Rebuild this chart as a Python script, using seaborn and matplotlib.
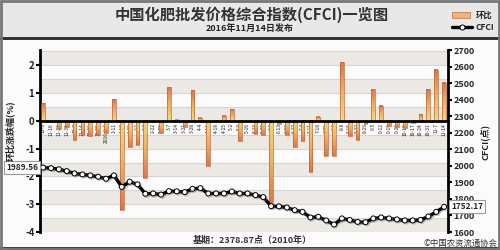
import numpy as np
import pandas as pd
import matplotlib
matplotlib.use("Agg")
import matplotlib.pyplot as plt
import matplotlib.patheffects as pe
import seaborn as sns
from matplotlib.colors import LinearSegmentedColormap
from matplotlib.patches import Rectangle
from matplotlib.lines import Line2D
from matplotlib.ticker import FixedLocator, FixedFormatter

# ---------------- data ----------------
dates = ["11-9", "11-16", "11-23", "11-30", "12-7", "12-14", "12-21", "12-28",
         "2016-1-4", "1-11", "1-18", "1-25", "2-1", "2-8", "2-22", "2-29",
         "3-7", "3-14", "3-21", "3-28", "4-4", "4-11", "4-18", "4-25",
         "5-2", "5-9", "5-16", "5-23", "5-30", "6-6", "6-13", "6-20",
         "6-27", "7-4", "7-11", "7-18", "7-25", "8-1", "8-8", "8-15",
         "8-22", "8-29", "9-5", "9-12", "9-19", "9-26", "10-10", "10-17",
         "10-24", "10-31", "11-7", "11-14"]

change_pct = [0.63, -0.05, -0.30, -0.22, -0.70, -0.51, -0.55, -0.50,
              -0.42, 0.79, -3.22, -0.93, -0.88, -2.07, -0.03, -0.42,
              1.22, 0.04, -0.22, 1.11, 0.12, -1.64, 0.02, 0.18,
              0.43, -0.74, -0.02, -0.48, -0.52, -2.96, -0.10, -0.50,
              -0.94, -0.73, -1.84, 0.15, -1.27, -1.25, 2.12, -0.55,
              -0.70, -0.12, 1.15, 0.55, -0.18, -0.22, -0.27, -0.08,
              0.24, 1.15, 1.84, 1.37]

cfci = [1989.56, 1986, 1979, 1968, 1954, 1948, 1942, 1934,
        1922, 1942, 1873, 1904, 1888, 1831, 1833, 1826,
        1847, 1846, 1841, 1861, 1865, 1833, 1833, 1833,
        1845, 1833, 1833, 1823, 1811, 1756, 1755, 1748,
        1732, 1722, 1688, 1692, 1670, 1645, 1682, 1673,
        1661, 1659, 1682, 1688, 1682, 1676, 1670, 1670,
        1673, 1694, 1722, 1752.17]

left_ticks = [-4, -3, -2, -1, 0, 1, 2]
right_ticks = [1600, 1700, 1800, 1900, 2000, 2100, 2200, 2300, 2400, 2500, 2600, 2700]

title = "中国化肥批发价格综合指数(CFCI)一览图"
subtitle = "2016年11月14日发布"
footer = "基期：2378.87点（2010年）"
credit = "©中国农资流通协会"

df = pd.DataFrame({"date": dates, "pct": change_pct, "cfci": cfci})
df["pos"] = np.arange(len(df))

# ---------------- style ----------------
sns.set_style("white")
plt.rcParams["font.family"] = ["Noto Sans CJK SC", "DejaVu Sans"]
plt.rcParams["axes.unicode_minus"] = False

fig = plt.figure(figsize=(5, 2.5), dpi=100, facecolor="#fbfbfb")

# header band & frame
fig.patches.append(Rectangle((0, 1 - 37 / 250), 1, 37 / 250, transform=fig.transFigure,
                             facecolor="#e8e8e8", edgecolor="none", zorder=0))
fig.patches.append(Rectangle((0, 1 - 39.5 / 250), 1, 2.5 / 250, transform=fig.transFigure,
                             facecolor="#333333", edgecolor="none", zorder=0))
fig.patches.append(Rectangle((0, 0), 1, 3 / 250, transform=fig.transFigure,
                             facecolor="#444444", edgecolor="none", zorder=0))
fig.patches.append(Rectangle((0.002, 0.004), 0.996, 0.992, transform=fig.transFigure,
                             facecolor="none", edgecolor="#777777", lw=2, zorder=5))

ax = fig.add_axes([0.08, 0.072, 0.816, 0.728])
ax.set_facecolor("#fbfbfb")

# bars
sns.barplot(data=df, x="date", y="pct", order=dates, width=0.48, color="#f0b070",
            saturation=1, ax=ax, zorder=2)
bar_patches = list(ax.patches)

cmap = LinearSegmentedColormap.from_list("barg", ["#f6d870", "#f0b060", "#e27448"])
grad = np.linspace(0, 1, 64).reshape(-1, 1)
for p in bar_patches:
    x0 = p.get_x()
    w = p.get_width()
    h = p.get_height()
    if abs(h) < 1e-9:
        continue
    ax.imshow(grad, cmap=cmap, origin="lower", aspect="auto",
              extent=(x0, x0 + w, 0, h), zorder=2, interpolation="bilinear")
    p.set_facecolor("none")
    p.set_edgecolor("#b86a3e")
    p.set_linewidth(0.5)
    p.set_zorder(3)

# alternating bands (drawn after bars so they are not touched above)
ylo, yhi = -4.0, 2.55
edges = np.arange(-4.0, 3.0, 0.5)
for lo in edges:
    hi = min(lo + 0.5, yhi)
    k = int(round((2.5 - lo) / 0.5))
    shade = "#ece8e4" if k % 2 == 1 else "#fbfbfb"
    ax.axhspan(lo, hi, facecolor=shade, edgecolor="none", zorder=0, lw=0)
    ax.axhline(lo, color="#d9d5d1", lw=0.8, zorder=0.5)

ax.set_ylim(ylo, yhi)
ax.set_yticks(left_ticks)
ax.set_yticklabels([str(t) for t in left_ticks], fontsize=7, fontweight="bold")
ax.tick_params(axis="y", length=3, width=1.5, direction="out", pad=1, color="black")
ax.set_xlabel("")
ax.set_ylabel("")

ax.spines["top"].set_visible(False)
ax.spines["right"].set_visible(False)
ax.spines["bottom"].set_position(("data", 0))
ax.spines["bottom"].set_linewidth(2)
ax.spines["bottom"].set_color("black")
ax.spines["bottom"].set_zorder(4)
ax.spines["left"].set_linewidth(2)
ax.spines["left"].set_color("black")

# line
ax2 = ax.twinx()
sns.lineplot(data=df, x="pos", y="cfci", ax=ax2, color="black", lw=2.4, marker="o",
             markersize=3.6, markerfacecolor="white", markeredgecolor="black",
             markeredgewidth=0.7, zorder=5,
             path_effects=[pe.SimpleLineShadow(offset=(0.8, -0.8), shadow_color="#777777", alpha=0.5),
                           pe.Normal()])
ax2.set_ylim(right_ticks[0], right_ticks[-1])
ax2.set_yticks(right_ticks)
ax2.set_yticklabels([str(t) for t in right_ticks], fontsize=6.5, fontweight="bold")
ax2.tick_params(axis="y", length=3, width=1.5, direction="out", pad=1, color="black")
ax2.set_xlabel("")
ax2.set_ylabel("")
for s in ["top", "left", "bottom"]:
    ax2.spines[s].set_visible(False)
ax2.spines["right"].set_linewidth(2)
ax2.spines["right"].set_color("black")

# x axis (after lineplot, since the x axis is shared)
ax.set_xlim(-0.4, len(dates) - 0.5)
ax.xaxis.set_major_locator(FixedLocator(list(range(len(dates)))))
ax.xaxis.set_major_formatter(FixedFormatter(dates))
ax.xaxis.set_minor_locator(FixedLocator(list(np.arange(len(dates)) + 0.5)))
ax.tick_params(axis="x", which="major", length=0, pad=1.5, labelsize=3.5,
               labelrotation=90, labelcolor="#222222")
ax.tick_params(axis="x", which="minor", length=2.5, width=0.8, direction="out", color="black")
ax.set_xlabel("")

# value boxes
box = dict(boxstyle="square,pad=0.25", facecolor="white", edgecolor="#9a9a9a", lw=0.8)
ax2.annotate(f"{cfci[0]:.2f}", xy=(df["pos"].iloc[0], cfci[0]), xytext=(-21, 0),
             textcoords="offset pixels", ha="center", va="center", fontsize=6,
             fontweight="bold", bbox=box, annotation_clip=False, zorder=10)
ax2.annotate(f"{cfci[-1]:.2f}", xy=(df["pos"].iloc[-1], cfci[-1]), xytext=(23, 0),
             textcoords="offset pixels", ha="center", va="center", fontsize=6,
             fontweight="bold", bbox=box, annotation_clip=False, zorder=10)

# texts
fig.text(0.504, 1 - 14.5 / 250, title, ha="center", va="center", fontsize=11,
         fontweight="bold", color="#333333")
fig.text(0.5, 1 - 28.5 / 250, subtitle, ha="center", va="center", fontsize=6.5,
         fontweight="bold", color="#222222")
fig.text(0.02, 0.476, "环比涨跌幅(%)", rotation=90, ha="center", va="center",
         fontsize=6.5, fontweight="bold", color="#222222")
fig.text(0.97, 0.432, "CFCI(点)", rotation=90, ha="center", va="center",
         fontsize=6.5, fontweight="bold", color="#222222")
fig.text(0.504, 0.04, footer, ha="center", va="center", fontsize=6.5,
         fontweight="bold", color="#333333")
fig.text(0.994, 0.028, credit, ha="right", va="center", fontsize=6, color="#333333")

# legend (manual)
fig.patches.append(Rectangle((452 / 500, 1 - 18 / 250), 18 / 500, 6 / 250,
                             transform=fig.transFigure, facecolor="#efb27a",
                             edgecolor="#c98050", lw=0.6))
fig.text(476 / 500, 1 - 15 / 250, "环比", ha="left", va="center", fontsize=6,
         fontweight="bold", color="#222222")
fig.add_artist(Line2D([452 / 500, 472 / 500], [1 - 27 / 250, 1 - 27 / 250],
                      transform=fig.transFigure, color="black", lw=2.4))
fig.add_artist(Line2D([462 / 500], [1 - 27 / 250], transform=fig.transFigure,
                      marker="o", markersize=3.6, markerfacecolor="white",
                      markeredgecolor="black", markeredgewidth=0.7, lw=0))
fig.text(476 / 500, 1 - 27 / 250, "CFCI", ha="left", va="center", fontsize=6,
         fontweight="bold", color="#222222")

fig.savefig("out.png", dpi=100, facecolor=fig.get_facecolor())
